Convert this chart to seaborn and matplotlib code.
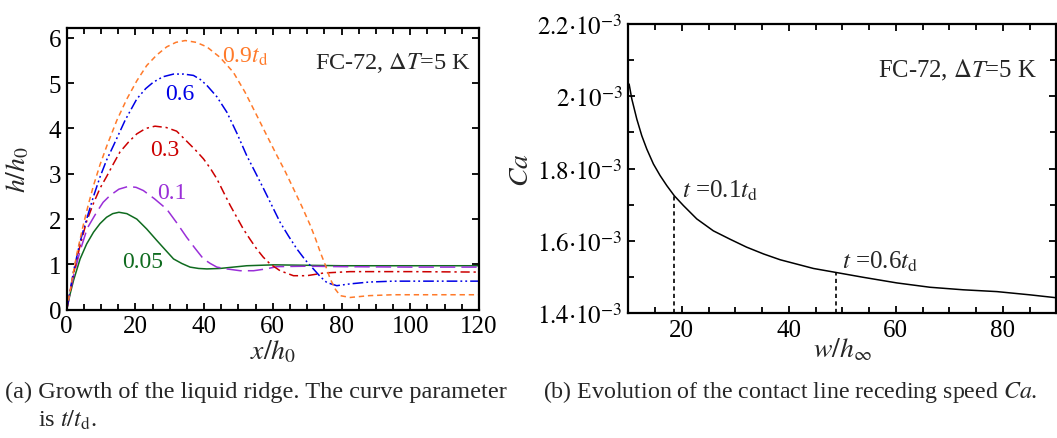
import numpy as np
import pandas as pd
import seaborn as sns
import matplotlib
matplotlib.use("Agg")
import matplotlib.pyplot as plt
from matplotlib.ticker import MultipleLocator, FixedLocator

sns.set_style("ticks")
plt.rcParams['font.family'] = ['Liberation Serif', 'STIXGeneral', 'DejaVu Serif']
plt.rcParams['mathtext.fontset'] = 'stix'

# ---------------- data (a) ----------------
x_005 = [0, 1, 2, 3.9, 5.8, 7.8, 9.7, 11.6, 13.4, 15.2, 17.5, 20.4, 23.3, 26.2, 28.7, 31.1, 33.5, 35.9, 38.4, 40.8, 44.6, 48.5, 52.4, 56.3, 60.2, 70, 80, 100, 120]
h_005 = [0, 0.35, 0.65, 1.12, 1.45, 1.71, 1.9, 2.04, 2.12, 2.15, 2.12, 2.0, 1.78, 1.53, 1.32, 1.12, 1.02, 0.94, 0.91, 0.9, 0.91, 0.94, 0.97, 0.98, 0.99, 0.98, 0.97, 0.97, 0.97]

x_01 = [0, 1, 2, 3.9, 6.0, 8.7, 10.6, 12.6, 15.2, 17.9, 20.2, 22.3, 25.5, 29.1, 32.0, 34.9, 37.4, 39.8, 41.8, 43.7, 46.6, 50.5, 54.4, 58.0, 61.2, 70, 80, 100, 120]
h_01 = [0, 0.38, 0.75, 1.3, 1.8, 2.15, 2.37, 2.52, 2.66, 2.72, 2.70, 2.63, 2.45, 2.22, 1.92, 1.6, 1.35, 1.12, 1.02, 0.94, 0.9, 0.86, 0.86, 0.9, 0.95, 0.96, 0.95, 0.94, 0.94]

x_03 = [0, 1, 2, 3.9, 5.8, 7.8, 9.7, 11.7, 13.6, 15.5, 18.0, 20.4, 23.0, 25.7, 29.0, 32.0, 34.9, 37.4, 39.8, 41.8, 43.7, 45.6, 47.6, 49.5, 51.4, 53.4, 55.3, 57.2, 59.2, 62.1, 66.0, 69.9, 74.8, 82.5, 100, 120]
h_03 = [0, 0.4, 0.8, 1.42, 1.95, 2.35, 2.68, 2.95, 3.22, 3.48, 3.7, 3.88, 4.0, 4.05, 4.02, 3.94, 3.72, 3.53, 3.33, 3.12, 2.89, 2.6, 2.3, 2.04, 1.78, 1.55, 1.34, 1.16, 1.01, 0.86, 0.75, 0.75, 0.81, 0.84, 0.84, 0.83]

x_06 = [0, 1, 2, 3.9, 5.8, 7.8, 9.7, 11.6, 13.6, 17.0, 20.4, 23.0, 25.2, 28.0, 31.1, 34.0, 36.9, 38.9, 40.8, 43.7, 46.6, 49.5, 52.4, 54.9, 57.3, 59.7, 62.1, 64.6, 67.0, 69.4, 71.8, 73.8, 75.7, 78.6, 82.5, 88, 95, 120]
h_06 = [0, 0.42, 0.85, 1.5, 2.0, 2.5, 2.93, 3.3, 3.62, 4.18, 4.65, 4.88, 5.02, 5.14, 5.2, 5.2, 5.17, 5.08, 4.95, 4.7, 4.36, 3.9, 3.4, 3.03, 2.67, 2.3, 1.93, 1.62, 1.34, 1.1, 0.9, 0.73, 0.6, 0.53, 0.57, 0.61, 0.63, 0.63]

x_09 = [0, 1, 2, 3.0, 4.8, 6.3, 7.8, 9.7, 11.7, 14.6, 17.5, 20.4, 23.3, 26.2, 29.1, 31.8, 34.5, 37.7, 40.8, 44.6, 48.5, 51.9, 55.3, 58.2, 61.2, 63.6, 66.0, 68.5, 70.9, 72.4, 73.8, 75.3, 76.7, 78.2, 79.6, 82.5, 88, 95, 120]
h_09 = [0, 0.42, 0.85, 1.25, 1.86, 2.32, 2.74, 3.2, 3.62, 4.18, 4.65, 5.05, 5.39, 5.62, 5.8, 5.9, 5.94, 5.9, 5.8, 5.57, 5.24, 4.8, 4.29, 3.85, 3.4, 3.05, 2.67, 2.27, 1.86, 1.57, 1.27, 0.98, 0.68, 0.45, 0.31, 0.27, 0.31, 0.33, 0.33]

curve_labels = ["0.05", "0.1", "0.3", "0.6", "0.9"]

# ---------------- data (b) ----------------
w_b = [10.15, 10.65, 11.59, 12.52, 13.46, 14.69, 15.94, 17.2, 18.6, 20.3, 22.8, 25.9, 29.0, 32.1, 35.3,
       38.4, 41.5, 44.6, 48.8, 53.9, 60.2, 66.4, 72.6, 78.9, 85.1, 90.0]
ca_b = [2.034e-3, 1.993e-3, 1.937e-3, 1.891e-3, 1.854e-3, 1.813e-3, 1.781e-3, 1.753e-3, 1.725e-3, 1.698e-3,
        1.661e-3, 1.628e-3, 1.605e-3, 1.583e-3, 1.564e-3, 1.548e-3, 1.536e-3, 1.524e-3, 1.513e-3, 1.4996e-3,
        1.484e-3, 1.472e-3, 1.465e-3, 1.460e-3, 1.451e-3, 1.443e-3]
mark_w = [18.6, 48.8]
mark_ca = [1.725e-3, 1.513e-3]
ca_ticks = [1.4e-3, 1.6e-3, 1.8e-3, 2.0e-3, 2.2e-3]
ca_ticklabels = [r"$1.4{\cdot}10^{-3}$", r"$1.6{\cdot}10^{-3}$", r"$1.8{\cdot}10^{-3}$",
                 r"$2{\cdot}10^{-3}$", r"$2.2{\cdot}10^{-3}$"]

W, H = 1057, 439
fig = plt.figure(figsize=(W / 100, H / 100), dpi=100)
ax1 = fig.add_axes([66.7 / W, 1 - 310.7 / H, (479 - 66.7) / W, (310.7 - 29.3) / H])
ax2 = fig.add_axes([628.3 / W, 1 - 314.3 / H, (1056.3 - 628.3) / W, (314.3 - 25) / H])

lw = 1.1
c005, c01, c03, c06, c09 = "#0f6b1f", "#9a2fd8", "#cc0000", "#0000e6", "#ff7a2a"
styles = [
    (x_005, h_005, c005, "-"),
    (x_01, h_01, c01, (0, (10, 4))),
    (x_03, h_03, c03, (0, (6, 2.5, 1.5, 2.5))),
    (x_06, h_06, c06, (0, (7, 2, 1.2, 2, 1.2, 2))),
    (x_09, h_09, c09, (0, (3.5, 2.5))),
]
for xs, hs, col, ls in styles:
    sns.lineplot(x=xs, y=hs, ax=ax1, color=col, linestyle=ls, linewidth=lw, sort=False, estimator=None)

ax1.set_xlim(0, 120)
ax1.set_ylim(0, 6.21)
ax1.xaxis.set_major_locator(MultipleLocator(20))
ax1.xaxis.set_minor_locator(MultipleLocator(5))
ax1.yaxis.set_major_locator(MultipleLocator(1))
ax1.set_xlabel(r"$x/h_0$", fontsize=20)
ax1.set_ylabel(r"$h/h_0$", fontsize=20)
ax1.xaxis.set_label_coords(0.5, -0.147)
ax1.xaxis.label.set_va("center")
ax1.yaxis.set_label_coords(-0.118, 0.5)
ax1.yaxis.label.set_va("center")

fs_lab = 17
lab_pos = {"0.9": (222, 57, c09, r"0.9$t_\mathrm{d}$"), "0.6": (165, 95, c06, "0.6"),
           "0.3": (150, 150, c03, "0.3"), "0.1": (157, 194, c01, "0.1"),
           "0.05": (122, 263, c005, "0.05")}
for key in curve_labels:
    px, py, col, txt = lab_pos[key]
    fig.text(px / W, 1 - py / H, txt, color=col, fontsize=fs_lab, ha="left", va="center")

fig.text(315 / W, 1 - 63 / H, r"FC-72, $\Delta T$=5 K", fontsize=17.5, ha="left", va="center")

# (b)
sns.lineplot(x=w_b, y=ca_b, ax=ax2, color="black", linewidth=1.1, sort=False, estimator=None)
for mw, mc in zip(mark_w, mark_ca):
    ax2.plot([mw, mw], [1.4e-3, mc], color="black", linestyle=(0, (2.5, 2)), linewidth=1.2)
ax2.set_xlim(10, 90)
ax2.set_ylim(1.4e-3, 2.2e-3)
ax2.xaxis.set_major_locator(MultipleLocator(20))
ax2.xaxis.set_minor_locator(MultipleLocator(5))
ax2.yaxis.set_major_locator(FixedLocator(ca_ticks))
ax2.set_yticklabels(ca_ticklabels)
ax2.yaxis.set_minor_locator(MultipleLocator(0.1e-3))
ax2.set_xlabel(r"$w/h_\infty$", fontsize=20)
ax2.set_ylabel(r"$Ca$", fontsize=20)
ax2.xaxis.set_label_coords(0.5, -0.123)
ax2.xaxis.label.set_va("center")
ax2.yaxis.set_label_coords(-0.25, 0.5)
ax2.yaxis.label.set_va("center")
ax2.text(20, 1.741e-3, r"$t$ =0.1$t_\mathrm{d}$", fontsize=18, ha="left", va="center")
ax2.text(49.9, 1.545e-3, r"$t$ =0.6$t_\mathrm{d}$", fontsize=18, ha="left", va="center")
fig.text(878 / W, 1 - 70 / H, r"FC-72, $\Delta T$=5 K", fontsize=17.8, ha="left", va="center")

for ax in (ax1, ax2):
    for s in ax.spines.values():
        s.set_visible(True)
        s.set_linewidth(1.6)
        s.set_color("black")
    ax.tick_params(which="both", direction="in", top=True, right=True, width=1.3, labelsize=18,
                   colors="black", pad=4)
    ax.tick_params(which="major", length=5)
    ax.tick_params(which="minor", length=4)
    ax.grid(False)

fig.text(5 / W, 1 - 392 / H, "(a) Growth of the liquid ridge. The curve parameter", fontsize=17.5, ha="left", va="center")
fig.text(38 / W, 1 - 420 / H, r"is $t/t_\mathrm{d}$.", fontsize=17.5, ha="left", va="center")
fig.text(543 / W, 1 - 392 / H, r"(b) Evolution of the contact line receding speed $Ca$.", fontsize=17.2, ha="left", va="center")

fig.savefig("out.png", dpi=100)
